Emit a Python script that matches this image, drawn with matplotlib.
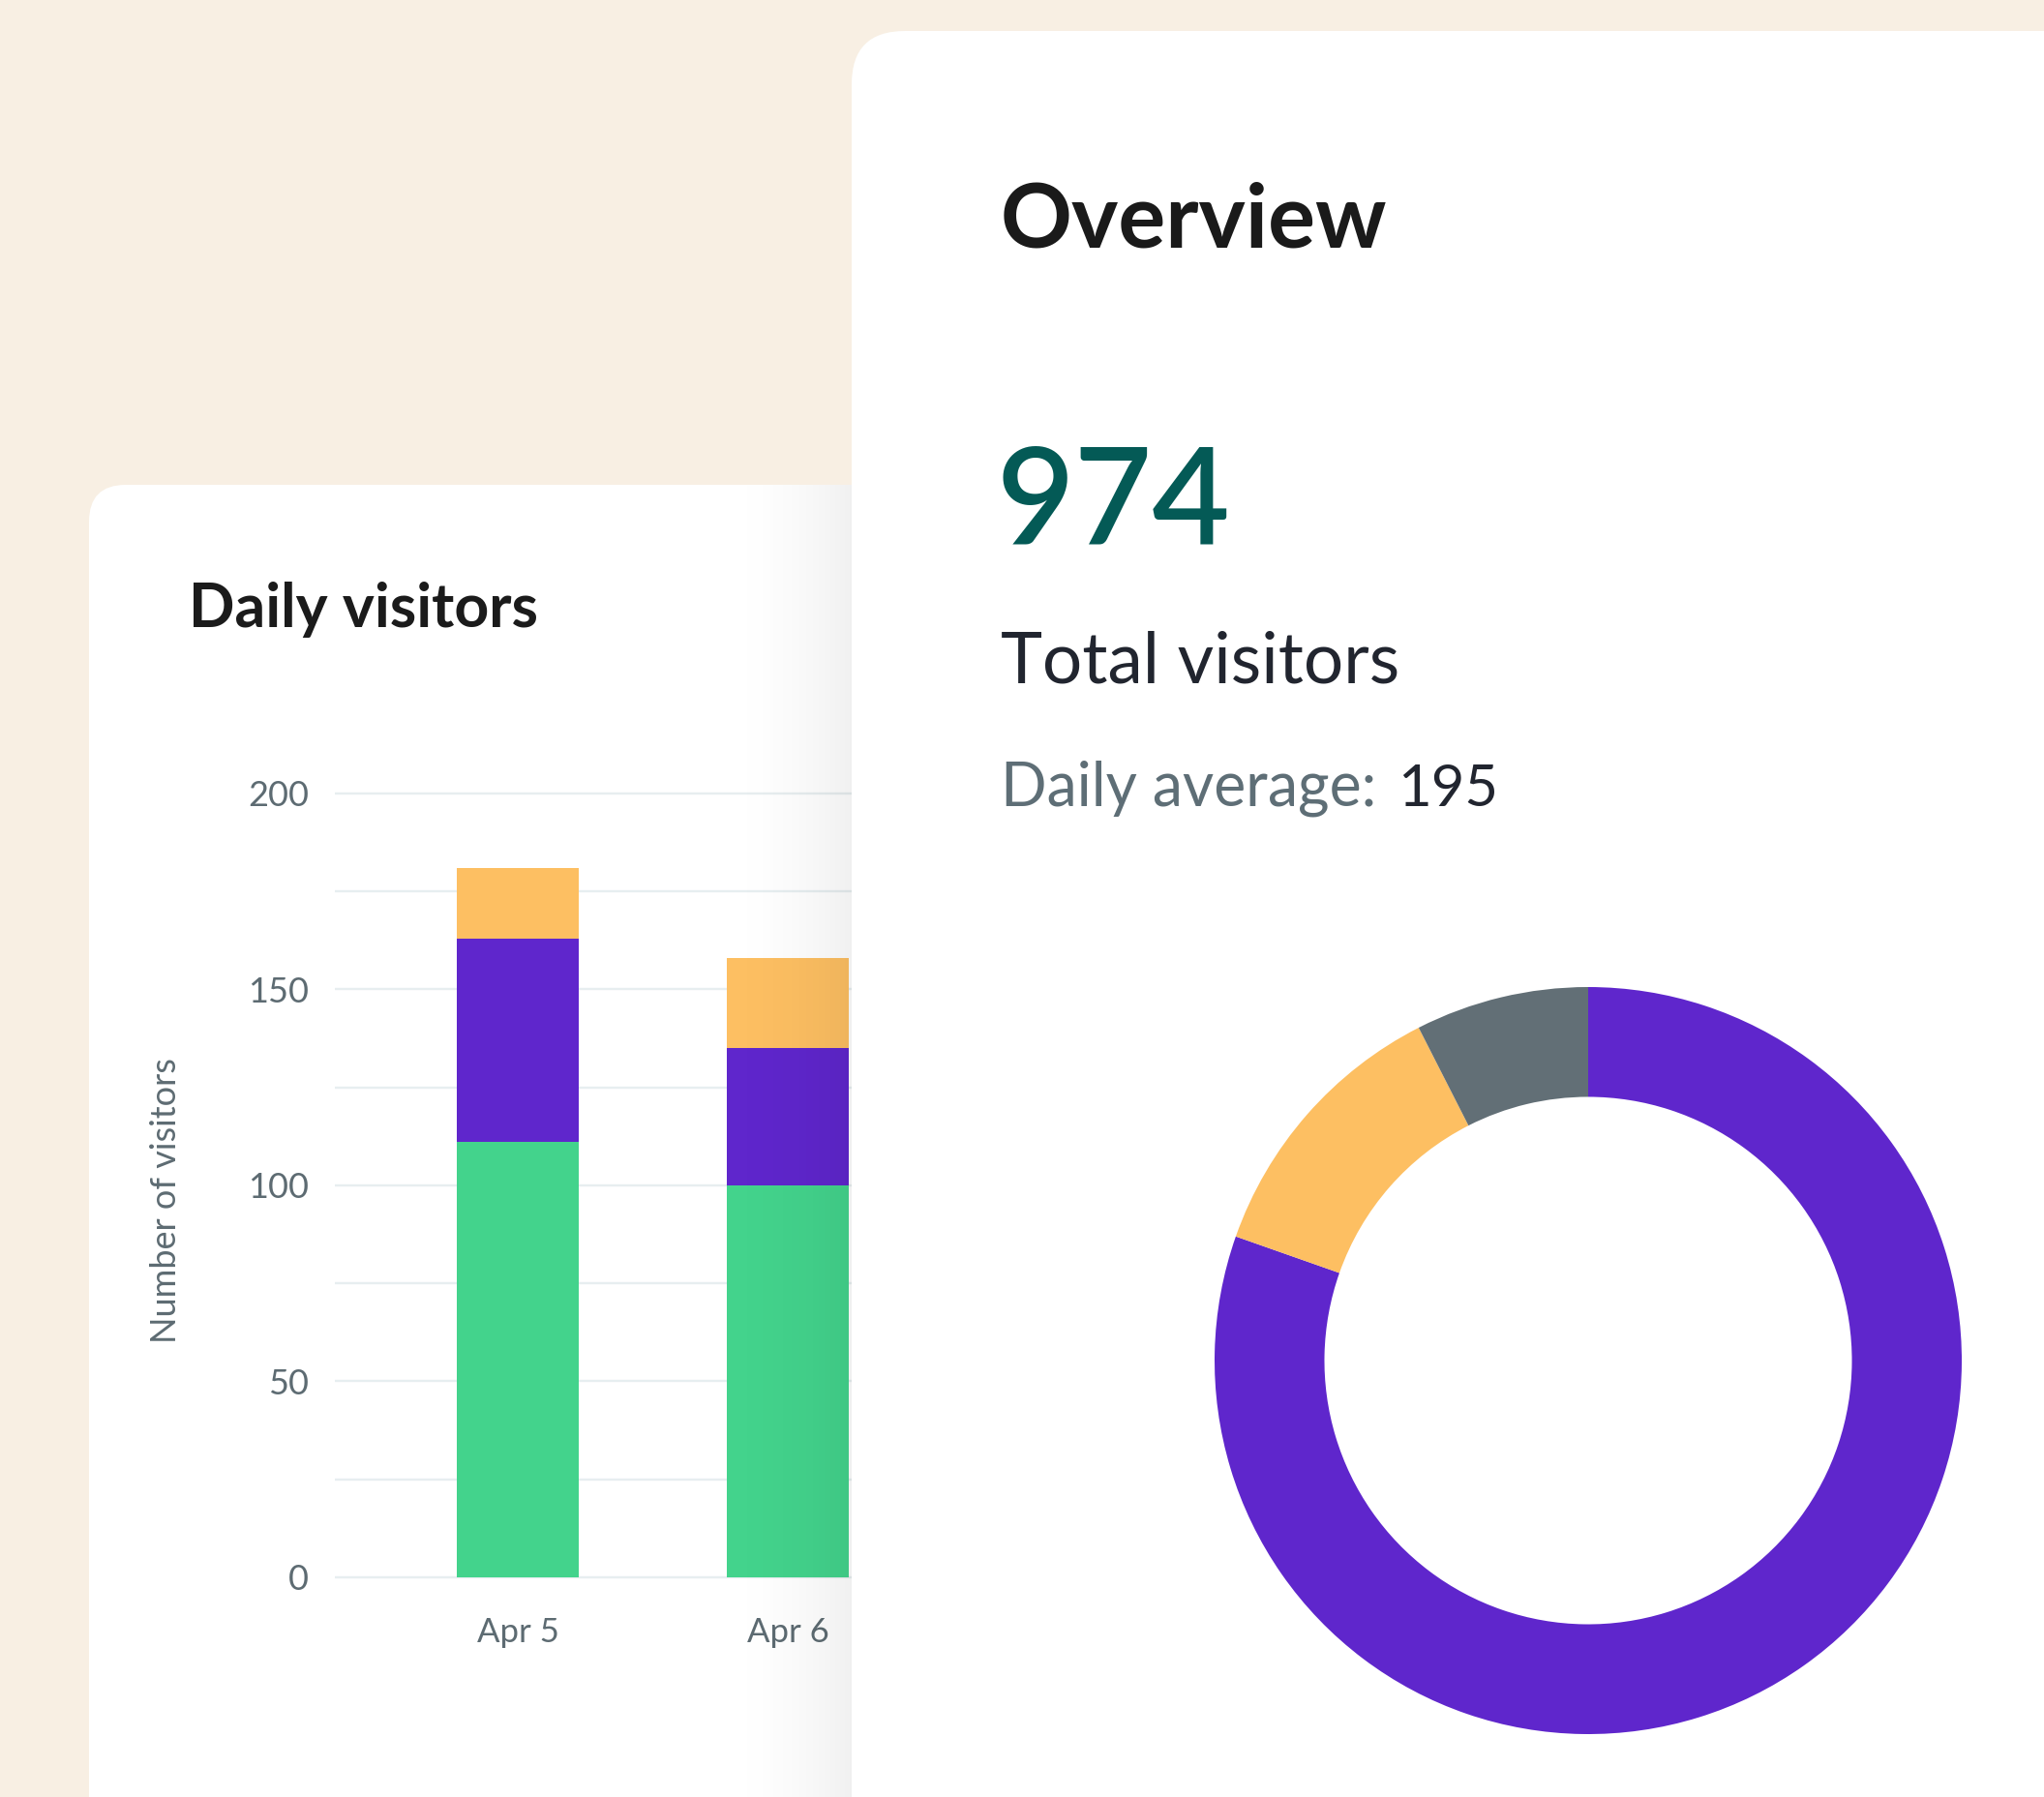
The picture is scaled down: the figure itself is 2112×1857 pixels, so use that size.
import numpy as np
import matplotlib
matplotlib.use('Agg')
import matplotlib.pyplot as plt
from matplotlib.patches import FancyBboxPatch

plt.rcParams['font.family'] = ['Lato', 'DejaVu Sans']

# data
days = ['Apr 5', 'Apr 6']
green_visits = [111, 100]
purple_visits = [52, 35]
orange_visits = [18, 23]
y_ticks = [0, 25, 50, 75, 100, 125, 150, 175, 200]
y_tick_labels = ['0', '', '50', '', '100', '', '150', '', '200']

total_visitors = '974'
daily_average = '195'
donut_values = [783, 118, 73]

GREEN = '#43d38c'
PURPLE = '#5f26cc'
ORANGE = '#fdbf62'
GREY = '#626f76'
TICK_GREY = '#5d6b72'
CREAM = '#f8efe3'

W, H = 2112, 1857


def frac(x0, y0, x1, y1):
    # pixel box (top-left origin) -> figure fraction
    return [x0 / W, 1 - y1 / H, (x1 - x0) / W, (y1 - y0) / H]


fig = plt.figure(figsize=(W / 100, H / 100), dpi=100)
fig.patch.set_facecolor(CREAM)

# background + left card
bg = fig.add_axes([0, 0, 1, 1], zorder=0)
bg.set_xlim(0, W)
bg.set_ylim(H, 0)
bg.axis('off')
bg.add_patch(FancyBboxPatch((92, 501), 1400, 1600,
                            boxstyle='round,pad=0,rounding_size=38',
                            fc='white', ec='none'))
bg.text(195, 648, 'Daily visitors', fontsize=45, fontweight='bold',
        color='#1b1b1b', va='baseline')
bg.text(171, 1241, 'Number of visitors', fontsize=26, color=TICK_GREY,
        rotation=90, ha='center', va='center')

# bar chart
x0_px, x_step = 535, 279
ax_left, ax_right = 346, 1300
ax = fig.add_axes(frac(ax_left, 820 - 8.1, ax_right, 1630 + 8.1), zorder=1)
ax.patch.set_alpha(0)
ax.set_xlim((ax_left - x0_px) / x_step, (ax_right - x0_px) / x_step)
ax.set_ylim(-2, 202)

x = np.arange(len(days))
bw = 0.455
ax.bar(x, green_visits, bw, color=GREEN, zorder=2)
ax.bar(x, purple_visits, bw, bottom=green_visits, color=PURPLE, zorder=2)
tops = [a + b for a, b in zip(green_visits, purple_visits)]
ax.bar(x, orange_visits, bw, bottom=tops, color=ORANGE, zorder=2)

ax.set_yticks(y_ticks, y_tick_labels)
ax.set_xticks(x, days)
ax.yaxis.grid(True, color='#e7eef0', lw=1.7, zorder=0)
ax.set_axisbelow(True)
for s in ax.spines.values():
    s.set_visible(False)
ax.tick_params(axis='y', length=0, pad=19.5, labelsize=26, labelcolor=TICK_GREY)
ax.tick_params(axis='x', length=0, pad=24, labelsize=25, labelcolor=TICK_GREY)

# soft shadow of the overview card on the left card
sh = fig.add_axes(frac(735, 501, 880, H), zorder=2)
g = np.linspace(0, 1, 256) ** 2
shade = np.zeros((1, 256, 4))
shade[..., 3] = 0.06 * g
sh.imshow(shade, aspect='auto', extent=(0, 1, 0, 1), interpolation='bilinear')
sh.axis('off')

# overview card
rc = fig.add_axes([0, 0, 1, 1], zorder=3)
rc.set_xlim(0, W)
rc.set_ylim(H, 0)
rc.axis('off')
rc.patch.set_alpha(0)
rc.add_patch(FancyBboxPatch((880, 32), 1500, 2000,
                            boxstyle='round,pad=0,rounding_size=55',
                            fc='white', ec='none'))
rc.text(1034, 256, 'Overview', fontsize=66, fontweight='bold',
        color='#1a1a1a', va='baseline')
rc.text(1030, 561, total_visitors, fontsize=100, fontweight='semibold',
        color='#045a56', va='baseline')
rc.text(1034, 705, 'Total visitors', fontsize=52.5, color='#21252f', va='baseline')
rc.text(1034, 833, 'Daily average:', fontsize=45, color='#5e6e76', va='baseline')
rc.text(1444, 833, daily_average, fontsize=43, color='#21252f', va='baseline')

# donut
cx, cy, R = 1641, 1406, 386
dn = fig.add_axes(frac(cx - R, cy - R, cx + R, cy + R), zorder=4)
dn.pie(donut_values, colors=[PURPLE, ORANGE, GREY], startangle=90,
       counterclock=False, radius=1,
       wedgeprops=dict(width=0.294, edgecolor='none', linewidth=0))
dn.set_xlim(-1, 1)
dn.set_ylim(-1, 1)
dn.axis('off')

fig.savefig('out.png', dpi=100, facecolor=CREAM)
